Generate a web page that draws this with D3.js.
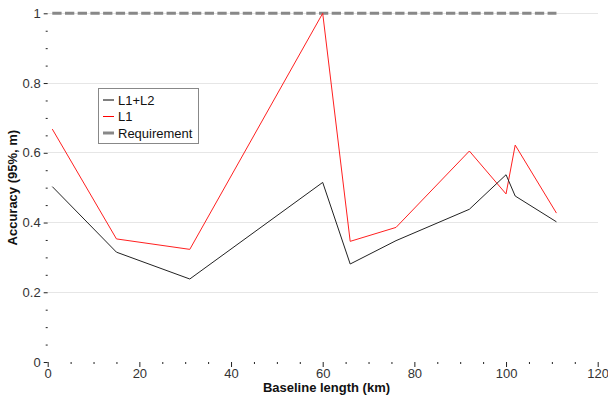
<!DOCTYPE html>
<html><head><meta charset="utf-8">
<script src="https://cdn.jsdelivr.net/npm/d3@7"></script>
<style>body{margin:0;background:#fff}svg{display:block;font-family:"Liberation Sans",Arial,sans-serif}</style>
</head><body><svg id="c" width="608" height="399"></svg>
<script>
const baselineKm = [1, 15, 31, 60, 66, 76, 92, 100, 102, 111];
const accL1L2 = [0.503, 0.315, 0.238, 0.515, 0.281, 0.348, 0.438, 0.537, 0.476, 0.402];
const accL1 = [0.668, 0.353, 0.323, 1.0, 0.346, 0.386, 0.605, 0.482, 0.622, 0.427];
const reqX = [1, 111];
const reqY = [1, 1];
const xTicks = [0, 20, 40, 60, 80, 100, 120];
const yTicks = [0, 0.2, 0.4, 0.6, 0.8, 1];
const yTickLabels = ["0", "0.2", "0.4", "0.6", "0.8", "1"];
const seriesNames = ["L1+L2", "L1", "Requirement"];

const svg = d3.select("#c");
const x = d3.scaleLinear().domain([0, 120]).range([47.7, 597.7]);
const y = d3.scaleLinear().domain([0, 1]).range([362, 13.3]);

// grid
svg.append("g").selectAll("line").data(yTicks.slice(1)).join("line")
  .attr("x1", x(0)).attr("x2", x(120))
  .attr("y1", d => y(d)).attr("y2", d => y(d))
  .attr("stroke", "#e6e6e6").attr("stroke-width", 1).attr("shape-rendering","crispEdges");

// axes
const xAxis = d3.axisBottom(x).tickValues(xTicks).tickSize(5).tickPadding(2).tickFormat(d3.format("d"));
const gx = svg.append("g").attr("transform", `translate(0,${y(0)})`).call(xAxis)
  .attr("font-size", null).attr("font-family", null);
gx.select(".domain").remove();
gx.selectAll("text").style("font-size", "13px").attr("fill", "#333");
gx.selectAll("line").attr("stroke", "#222");
const xMinor = d3.axisBottom(x).tickValues(d3.range(5, 120, 5).filter(v => v % 20 !== 0)).tickSize(2).tickFormat("");
const gxm = svg.append("g").attr("transform", `translate(0,${y(0)})`).call(xMinor);
gxm.select(".domain").remove(); gxm.selectAll("line").attr("stroke", "#222");

const yAxis = d3.axisLeft(y).tickValues(yTicks).tickSize(4).tickPadding(3).tickFormat((d, i) => yTickLabels[i]);
const gy = svg.append("g").attr("transform", `translate(${x(0)},0)`).call(yAxis)
  .attr("font-size", null).attr("font-family", null);
gy.select(".domain").remove();
gy.selectAll("text").style("font-size", "13px").attr("fill", "#333");
gy.selectAll("line").attr("stroke", "#222");
const yMinor = d3.axisLeft(y).tickValues(d3.range(1, 20).map(i => i * 0.05).filter((v, i) => (i + 1) % 4 !== 0)).tickSize(2).tickFormat("");
const gym = svg.append("g").attr("transform", `translate(${x(0)},0)`).call(yMinor);
gym.select(".domain").remove(); gym.selectAll("line").attr("stroke", "#222");

// labels
svg.append("text").attr("x", 326.5).attr("y", 392).attr("text-anchor", "middle")
  .style("font-size", "13px").attr("font-weight", "bold").attr("fill", "#111").text("Baseline length (km)");
svg.append("text").attr("transform", `translate(17.3,${(y(0) + y(1)) / 2}) rotate(-90)`).attr("text-anchor", "middle")
  .style("font-size", "13px").attr("font-weight", "bold").attr("fill", "#111").text("Accuracy (95%, m)");

// lines
const line = d3.line().x(d => x(d[0])).y(d => y(d[1]));
svg.append("path").datum(reqX.map((v, i) => [v, reqY[i]])).attr("d", line)
  .attr("fill", "none").attr("stroke", "#888").attr("stroke-width", 3).attr("stroke-dasharray", "9.3,3.4");
svg.append("path").datum(baselineKm.map((v, i) => [v, accL1[i]])).attr("d", line)
  .attr("fill", "none").attr("stroke", "#ff2020").attr("stroke-width", 1);
svg.append("path").datum(baselineKm.map((v, i) => [v, accL1L2[i]])).attr("d", line)
  .attr("fill", "none").attr("stroke", "#222").attr("stroke-width", 1);

// legend
const lg = svg.append("g");
lg.append("rect").attr("x", 98.5).attr("y", 88.5).attr("width", 100).attr("height", 55)
  .attr("fill", "#fff").attr("stroke", "#888").attr("stroke-width", 1);
const legColors = ["#000", "#ff0000", "#888"];
const legWidths = [1, 1, 3];
seriesNames.forEach((n, i) => {
  const yy = 100 + i * 16.5;
  lg.append("line").attr("x1", 103).attr("x2", 114).attr("y1", yy).attr("y2", yy)
    .attr("stroke", legColors[i]).attr("stroke-width", legWidths[i]);
  lg.append("text").attr("x", 118).attr("y", yy + 4.7).style("font-size", "13px").attr("fill", "#111").text(n);
});
</script></body></html>
